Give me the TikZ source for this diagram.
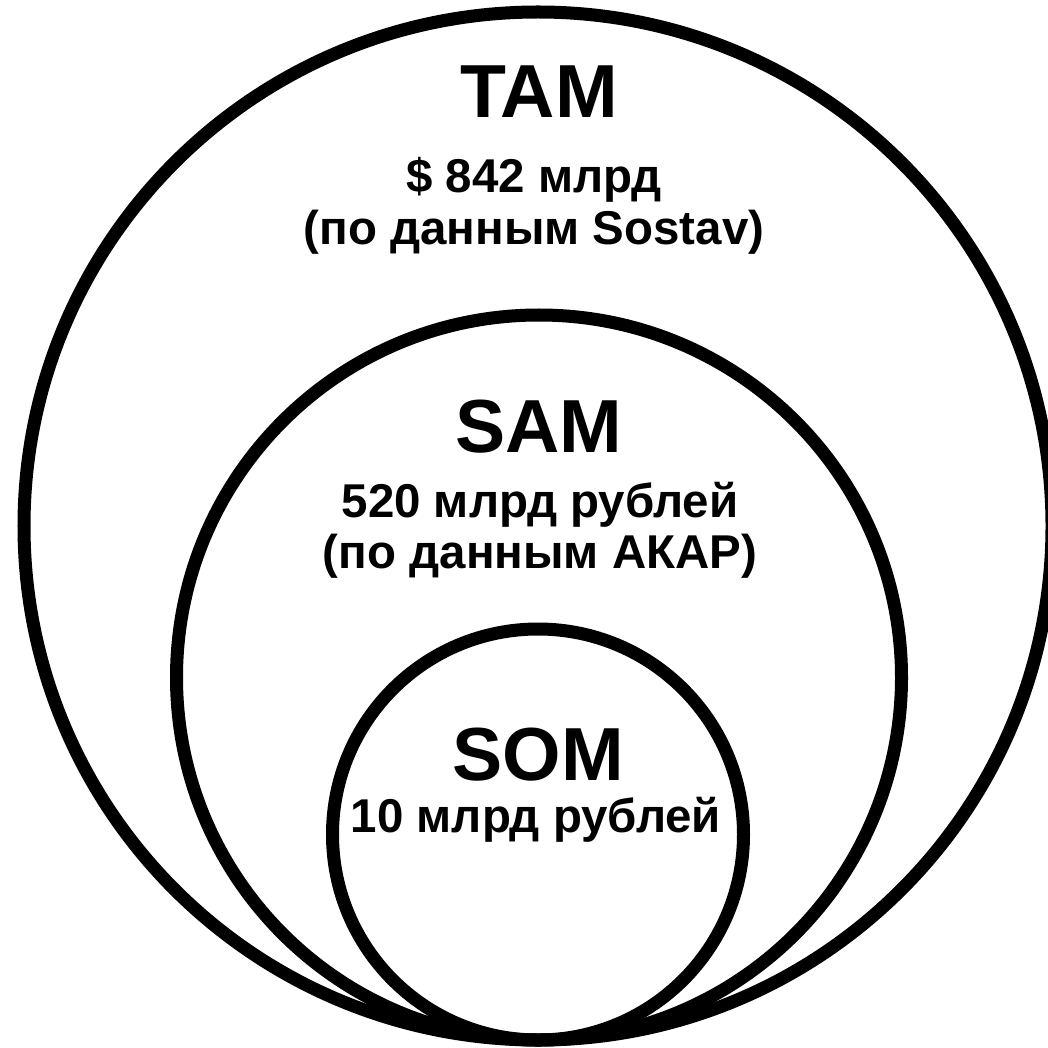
\documentclass[tikz,border=0pt]{standalone}
\usepackage{fontspec}
\setmainfont{Liberation Sans}
\tikzset{
  ring/.style={line width=3.7pt},
  head/.style={anchor=base,font=\bfseries\fontsize{21.4}{24}\selectfont,inner sep=0pt},
  info/.style={anchor=base,font=\bfseries\fontsize{13.5}{16}\selectfont,inner sep=0pt}
}
\begin{document}
\begin{tikzpicture}
  \useasboundingbox (0,0) rectangle (10.48,10.47);
  \draw[ring] (5.38,5.21) circle (5.14cm);
  \draw[ring] (5.39,3.695) circle (3.625cm);
  \draw[ring] (5.38,2.125) circle (2.055cm);
  \node[head] (tam) at (5.39,9.29) {TAM};
  \node[info] (tamsum) at (5.34,8.54) {\$ 842 млрд};
  \node[info] (tamsrc) at (5.34,8.02) {(по данным Sostav)};
  \node[head] (sam) at (5.39,5.95) {SAM};
  \node[info] (samsum) at (5.40,5.30) {520 млрд рублей};
  \node[info] (samsrc) at (5.40,4.79) {(по данным АКАР)};
  \node[head] (som) at (5.38,2.67) {SOM};
  \node[info] (somsum) at (5.36,2.15) {10 млрд рублей};
\end{tikzpicture}
\end{document}
